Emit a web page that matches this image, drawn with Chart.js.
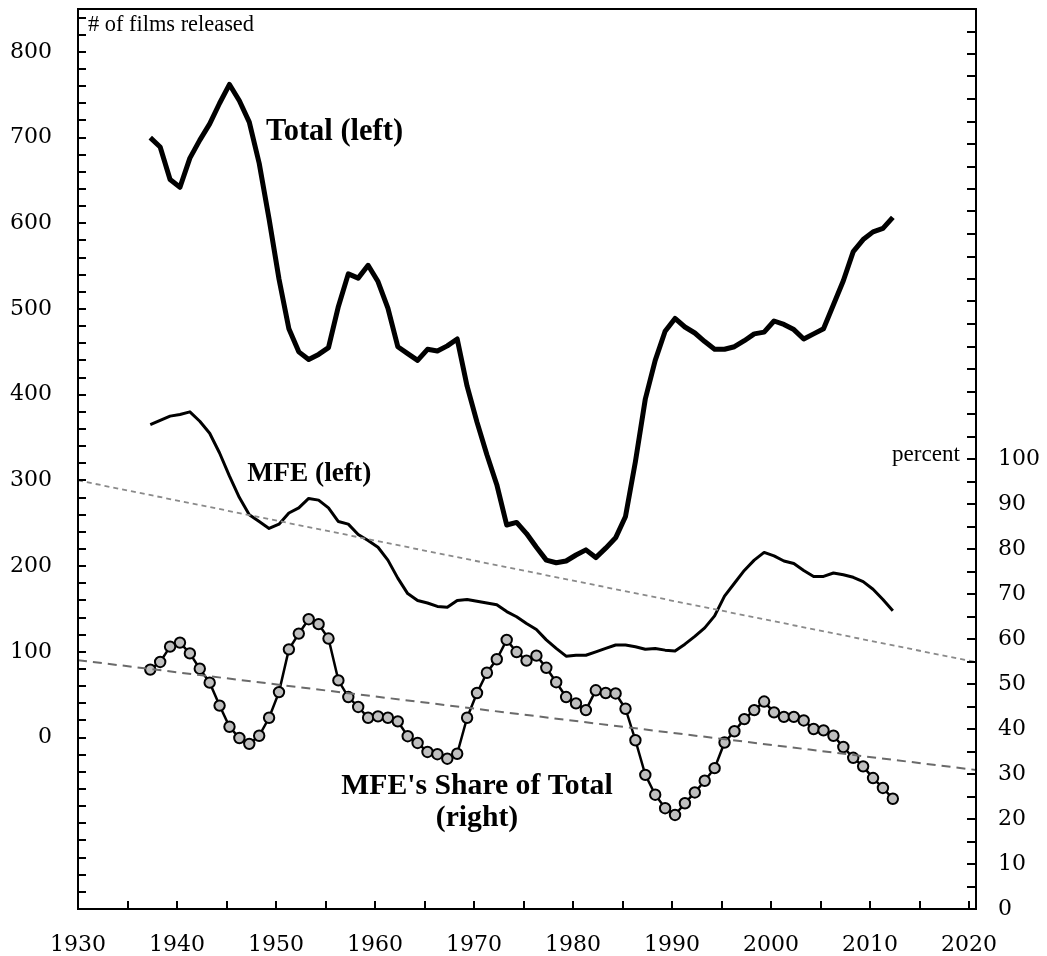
<!DOCTYPE html>
<html>
<head>
<meta charset="utf-8">
<script src="https://cdn.jsdelivr.net/npm/chart.js@4.4.1/dist/chart.umd.min.js"></script>
<style>
  html, body { margin: 0; padding: 0; background: #fff; }
</style>
</head>
<body>
<canvas id="chart" width="1047" height="956"></canvas>
<script>
'use strict';

var years = [
    1937, 1938, 1939, 1940, 1941, 1942, 1943, 1944, 1945, 1946,
    1947, 1948, 1949, 1950, 1951, 1952, 1953, 1954, 1955, 1956,
    1957, 1958, 1959, 1960, 1961, 1962, 1963, 1964, 1965, 1966,
    1967, 1968, 1969, 1970, 1971, 1972, 1973, 1974, 1975, 1976,
    1977, 1978, 1979, 1980, 1981, 1982, 1983, 1984, 1985, 1986,
    1987, 1988, 1989, 1990, 1991, 1992, 1993, 1994, 1995, 1996,
    1997, 1998, 1999, 2000, 2001, 2002, 2003, 2004, 2005, 2006,
    2007, 2008, 2009, 2010, 2011, 2012
];

// # of films released, all
var total = [
    700, 689, 651, 642, 676, 697, 716, 740, 762, 743,
    718, 670, 605, 535, 477, 450, 441, 447, 455, 503,
    541, 536, 551, 532, 501, 456, 448, 440, 453, 451,
    457, 465, 410, 368, 330, 295, 248, 251, 238, 222,
    207, 204, 206, 213, 219, 210, 221, 233, 258, 322,
    395, 440, 474, 489, 479, 472, 462, 453, 453, 456,
    463, 471, 473, 486, 482, 476, 465, 471, 477, 505,
    533, 567, 581, 590, 594, 607
];

// # of MFE films released
var mfe = [
    365, 370, 375, 377, 380, 369, 355, 332, 305, 280,
    260, 252, 244, 249, 262, 268, 279, 277, 268, 252,
    249, 237, 230, 222, 207, 186, 168, 160, 157, 153,
    152, 160, 161, 159, 157, 155, 147, 141, 133, 126,
    114, 104, 95, 96, 96, 100, 104, 108, 108, 106,
    103, 104, 102, 101, 109, 118, 128, 142, 165, 180,
    195, 207, 216, 212, 206, 203, 195, 188, 188, 192,
    190, 187, 182, 173, 161, 148
];

// MFE's share of total, percent
var share = [
    53.2, 54.9, 58.3, 59.2, 56.8, 53.4, 50.3, 45.2, 40.5, 38.0,
    36.7, 38.5, 42.5, 48.2, 57.7, 61.2, 64.4, 63.3, 60.1, 50.8,
    47.1, 44.9, 42.5, 42.8, 42.5, 41.7, 38.4, 36.9, 34.9, 34.4,
    33.4, 34.5, 42.5, 48.0, 52.5, 55.5, 59.8, 57.1, 55.2, 56.3,
    53.6, 50.4, 47.1, 45.7, 44.2, 48.6, 48.0, 47.9, 44.5, 37.5,
    29.8, 25.4, 22.4, 20.9, 23.5, 25.9, 28.5, 31.3, 37.0, 39.5,
    42.2, 44.2, 46.1, 43.7, 42.7, 42.7, 41.9, 40.0, 39.7, 38.5,
    36.0, 33.6, 31.7, 29.1, 26.9, 24.5
];

// trend lines, end points
var trendYears = [1930, 2020.7];
var mfeTrend = [300, 88];
var shareTrend = [55.3, 30.9];

var FONT = '"DejaVu Serif", "Liberation Serif", serif';
var LABEL_FONT = '"Liberation Serif", "DejaVu Serif", serif';
var xOffset = 0.3;

function points(vals, xs, off) {
    return vals.map(function (v, i) {
        return { x: xs[i] + off, y: v };
    });
}

function fitFont(ctx, text, width, weight) {
    ctx.font = weight + ' 20px ' + LABEL_FONT;
    var size = 20 * width / ctx.measureText(text).width;
    return weight + ' ' + size.toFixed(1) + 'px ' + LABEL_FONT;
}

// Excel-like frame: box plus inward tick marks
var frame = {
    id: 'frame',
    afterDatasetsDraw: function (chart) {
        var ctx = chart.ctx;
        var a = chart.chartArea;
        var sx = chart.scales.x, sl = chart.scales.y, sr = chart.scales.y2;
        var v, p;

        ctx.save();
        ctx.strokeStyle = '#000';
        ctx.lineWidth = 2;
        ctx.strokeRect(a.left, a.top, a.right - a.left, a.bottom - a.top);

        ctx.beginPath();
        for (v = -200; v <= 840; v += 20) {
            p = Math.round(sl.getPixelForValue(v));
            ctx.moveTo(a.left, p);
            ctx.lineTo(a.left + 8, p);
        }
        for (v = 0; v <= 200; v += 5) {
            p = Math.round(sr.getPixelForValue(v));
            ctx.moveTo(a.right, p);
            ctx.lineTo(a.right - 9, p);
        }
        for (v = 1935; v <= 2020; v += 5) {
            p = Math.round(sx.getPixelForValue(v));
            ctx.moveTo(p, a.bottom);
            ctx.lineTo(p, a.bottom - 8);
        }
        ctx.stroke();

        ctx.fillStyle = '#000';
        ctx.textBaseline = 'alphabetic';

        ctx.textAlign = 'left';
        ctx.font = fitFont(ctx, '# of films released', 166, 'normal');
        ctx.fillText('# of films released', a.left + 10, a.top + 22);

        ctx.textAlign = 'right';
        ctx.font = fitFont(ctx, 'percent', 68, 'normal');
        ctx.fillText('percent', a.right - 16, sr.getPixelForValue(100) + 2);

        ctx.textAlign = 'left';
        ctx.font = fitFont(ctx, 'Total (left)', 137, 'bold');
        ctx.fillText('Total (left)', sx.getPixelForValue(1949.0), sl.getPixelForValue(697));

        ctx.font = fitFont(ctx, 'MFE (left)', 124, 'bold');
        ctx.fillText('MFE (left)', sx.getPixelForValue(1947.1), sl.getPixelForValue(299));

        ctx.textAlign = 'center';
        ctx.font = fitFont(ctx, "MFE's Share of Total", 271, 'bold');
        ctx.fillText("MFE's Share of Total", sx.getPixelForValue(1970.3), sr.getPixelForValue(25.6));
        ctx.fillText('(right)', sx.getPixelForValue(1970.3), sr.getPixelForValue(18.5));
        ctx.restore();
    }
};

var tickFont = { family: FONT, size: 22 };

function noPadY(s, w) {
    s.width = w;
    s.paddingTop = 0;
    s.paddingBottom = 0;
}

new Chart(document.getElementById('chart'), {
    type: 'line',
    data: {
        datasets: [
            {
                label: 'MFE trend',
                data: points(mfeTrend, trendYears, 0),
                yAxisID: 'y',
                borderColor: '#8a8a8a',
                borderWidth: 1.8,
                borderDash: [5, 4],
                pointRadius: 0,
                fill: false
            },
            {
                label: 'Share trend',
                data: points(shareTrend, trendYears, 0),
                yAxisID: 'y2',
                borderColor: '#6a6a6a',
                borderWidth: 2,
                borderDash: [9, 6],
                pointRadius: 0,
                fill: false
            },
            {
                label: 'Total (left)',
                data: points(total, years, xOffset),
                yAxisID: 'y',
                borderColor: '#000',
                borderWidth: 5,
                borderJoinStyle: 'round',
                pointRadius: 0,
                tension: 0,
                fill: false
            },
            {
                label: 'MFE (left)',
                data: points(mfe, years, xOffset),
                yAxisID: 'y',
                borderColor: '#000',
                borderWidth: 3,
                borderJoinStyle: 'round',
                pointRadius: 0,
                tension: 0,
                fill: false
            },
            {
                label: "MFE's Share of Total (right)",
                data: points(share, years, xOffset),
                yAxisID: 'y2',
                borderColor: '#000',
                borderWidth: 2.5,
                pointRadius: 5.2,
                pointBackgroundColor: '#bfbfbf',
                pointBorderColor: '#000',
                pointBorderWidth: 2,
                tension: 0,
                fill: false
            }
        ]
    },
    options: {
        responsive: false,
        animation: false,
        devicePixelRatio: 1,
        layout: { padding: { top: 9, left: 0, right: 0, bottom: 0 } },
        plugins: {
            legend: { display: false },
            tooltip: { enabled: false }
        },
        scales: {
            x: {
                type: 'linear',
                position: 'bottom',
                min: 1930,
                max: 2020.7,
                grid: { display: false, drawTicks: false },
                border: { display: false },
                ticks: {
                    stepSize: 10,
                    includeBounds: false,
                    autoSkip: false,
                    maxRotation: 0,
                    padding: 23,
                    color: '#000',
                    font: tickFont,
                    callback: function (v) { return v % 10 === 0 ? String(v) : ''; }
                },
                afterFit: function (s) {
                    s.height = 47;
                    s.paddingLeft = 0;
                    s.paddingRight = 0;
                }
            },
            y: {
                position: 'left',
                min: -200,
                max: 850,
                grid: { display: false, drawTicks: false },
                border: { display: false },
                ticks: {
                    stepSize: 100,
                    includeBounds: false,
                    autoSkip: false,
                    padding: 26,
                    color: '#000',
                    font: tickFont,
                    callback: function (v) { return v >= 0 && v <= 800 ? String(v) : ''; }
                },
                afterFit: function (s) { noPadY(s, 78); }
            },
            y2: {
                position: 'right',
                min: 0,
                max: 200,
                grid: { display: false, drawTicks: false },
                border: { display: false },
                ticks: {
                    stepSize: 10,
                    includeBounds: false,
                    autoSkip: false,
                    padding: 22,
                    color: '#000',
                    font: tickFont,
                    callback: function (v) { return v <= 100 ? String(v) : ''; }
                },
                afterFit: function (s) { noPadY(s, 71); }
            }
        }
    },
    plugins: [frame]
});
</script>
</body>
</html>
